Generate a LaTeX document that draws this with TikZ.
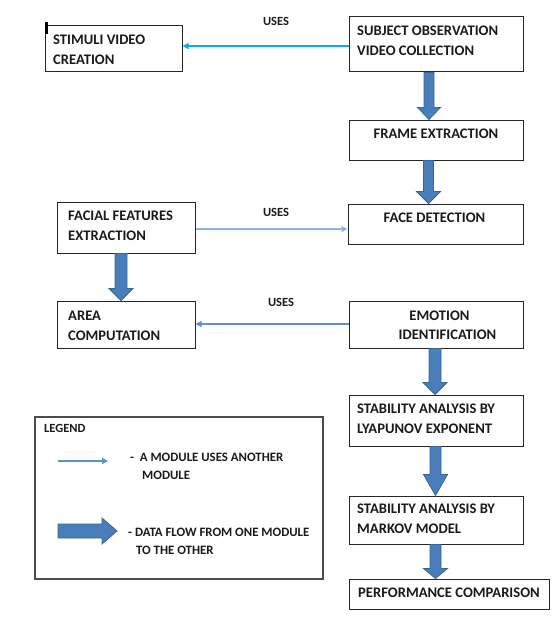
\documentclass[tikz,border=0pt]{standalone}
\usepackage{fontspec}
\setmainfont{Carlito}
\usetikzlibrary{arrows.meta,fit,calc}
\definecolor{flowfill}{HTML}{4A7EBB}
\definecolor{flowline}{HTML}{3A6496}
\definecolor{usecyan}{HTML}{00B0F0}
\definecolor{uselight}{HTML}{8DB4E2}
\definecolor{usemid}{HTML}{5B8FD0}
\definecolor{inkc}{HTML}{1A1A1A}
\newcommand\flowdown[6]{%
  \draw[flow] let \p1=(#1.south), \p2=(#2.north) in
    ({#3pt-#4pt},\y1) -- ({#3pt+#4pt},\y1) -- ({#3pt+#4pt},{\y2+#6pt})
    -- ({#3pt+#5pt},{\y2+#6pt}) -- ({#3pt},\y2) -- ({#3pt-#5pt},{\y2+#6pt})
    -- ({#3pt-#4pt},{\y2+#6pt}) -- cycle;}
\begin{document}
\begin{tikzpicture}[x=1pt,y=-1pt,
  box/.style={draw=black!85, line width=1pt, inner sep=0pt, rectangle},
  lbl/.style={font=\fontsize{14.6}{16}\selectfont\bfseries, inner sep=0pt, anchor=base west, text=inkc},
  clbl/.style={lbl, anchor=base},
  small/.style={font=\fontsize{12.5}{13}\selectfont\bfseries, inner sep=0pt, anchor=base, text=inkc},
  leg/.style={font=\fontsize{12.8}{14}\selectfont\bfseries, inner sep=0pt, anchor=base west, text=inkc},
  flow/.style={fill=flowfill, draw=flowline, line width=0.8pt},
  usesarrow/.style={-{Triangle[length=6pt,width=6pt]}}
]
\useasboundingbox (0,0) rectangle (556,623);
% boxes
\node[box, fit={(45,26)(182,72)}] (stim) {};
\node[box, fit={(349,17)(523,72)}] (subj) {};
\node[box, fit={(349,120)(523,160)}] (frame) {};
\node[box, fit={(348,204)(523,244)}] (face) {};
\node[box, fit={(57,202)(195,253)}] (facial) {};
\node[box, fit={(57,301)(195,348)}] (area) {};
\node[box, fit={(349,301)(523,348)}] (emo) {};
\node[box, fit={(349,395)(523,446)}] (stab1) {};
\node[box, fit={(349,496)(523,544)}] (stab2) {};
\node[box, fit={(349,579)(549,609)}] (perf) {};
\node[draw=black!70, line width=1.2pt, inner sep=0pt, fit={(35,417)(323,579)}] (legend) {};
\fill[black] (45,22) rectangle (48,34);
% texts
\node[lbl] (t1a) at (53,45) {STIMULI VIDEO};
\node[lbl] (t1b) at (53,65) {CREATION};
\node[lbl] (t2a) at (357,36) {SUBJECT OBSERVATION};
\node[lbl] (t2b) at (357,56) {VIDEO COLLECTION};
\node[clbl] (t3) at (436,138) {FRAME EXTRACTION};
\node[clbl] (t4) at (434.5,222) {FACE DETECTION};
\node[lbl] (t5a) at (68,220) {FACIAL FEATURES};
\node[lbl] (t5b) at (68,240) {EXTRACTION};
\node[lbl] (t6a) at (68,320) {AREA};
\node[lbl] (t6b) at (68,340) {COMPUTATION};
\node[clbl] (t7a) at (439.5,320) {EMOTION};
\node[clbl] (t7b) at (447.5,339) {IDENTIFICATION};
\node[lbl] (t8a) at (357,413) {STABILITY ANALYSIS BY};
\node[lbl] (t8b) at (357,433) {LYAPUNOV EXPONENT};
\node[lbl] (t9a) at (357,513) {STABILITY ANALYSIS BY};
\node[lbl] (t9b) at (357,533) {MARKOV MODEL};
\node[lbl] (t10) at (358,597) {PERFORMANCE COMPARISON};
\node[small] (u1) at (276,26) {USES};
\node[small] (u2) at (276,216) {USES};
\node[small] (u3) at (281,306) {USES};
% uses arrows
\draw[usecyan, line width=1.8pt, usesarrow] (subj.west |- 0,46) -- (stim.east |- 0,46);
\draw[uselight, line width=1.3pt, usesarrow] (facial.east |- 0,229) -- (face.west |- 0,229);
\draw[usemid, line width=1.3pt, usesarrow] (emo.west |- 0,324) -- (area.east |- 0,324);
% data flow arrows
\flowdown{subj}{frame}{429}{5}{11.5}{12}
\flowdown{frame}{face}{428.5}{5}{12}{12}
\flowdown{facial}{area}{121}{6}{12}{12}
\flowdown{emo}{stab1}{435}{6}{12}{12}
\flowdown{stab1}{stab2}{435.5}{5.5}{12}{21}
\flowdown{stab2}{perf}{435.5}{5.5}{12}{10}
% legend
\node[font=\fontsize{12.5}{13}\selectfont\bfseries, inner sep=0pt, anchor=base west, text=inkc] (lg) at (44,432) {LEGEND};
\coordinate (la1) at (58,461);
\coordinate (la2) at (108,461);
\draw[usemid, line width=1.3pt, usesarrow] (la1) -- (la2);
\draw[flow] (58,524) -- (102,524) -- (102,518) -- (117,531) -- (102,544) -- (102,538) -- (58,538) -- cycle;
\node[leg] (l1a) at (130,461.5) {-\ \ A MODULE USES ANOTHER};
\node[leg] (l1b) at (142,479.5) {MODULE};
\node[leg] (l2a) at (128,536.5) {- DATA FLOW FROM ONE MODULE};
\node[leg] (l2b) at (136,554.5) {TO THE OTHER};
\end{tikzpicture}
\end{document}
